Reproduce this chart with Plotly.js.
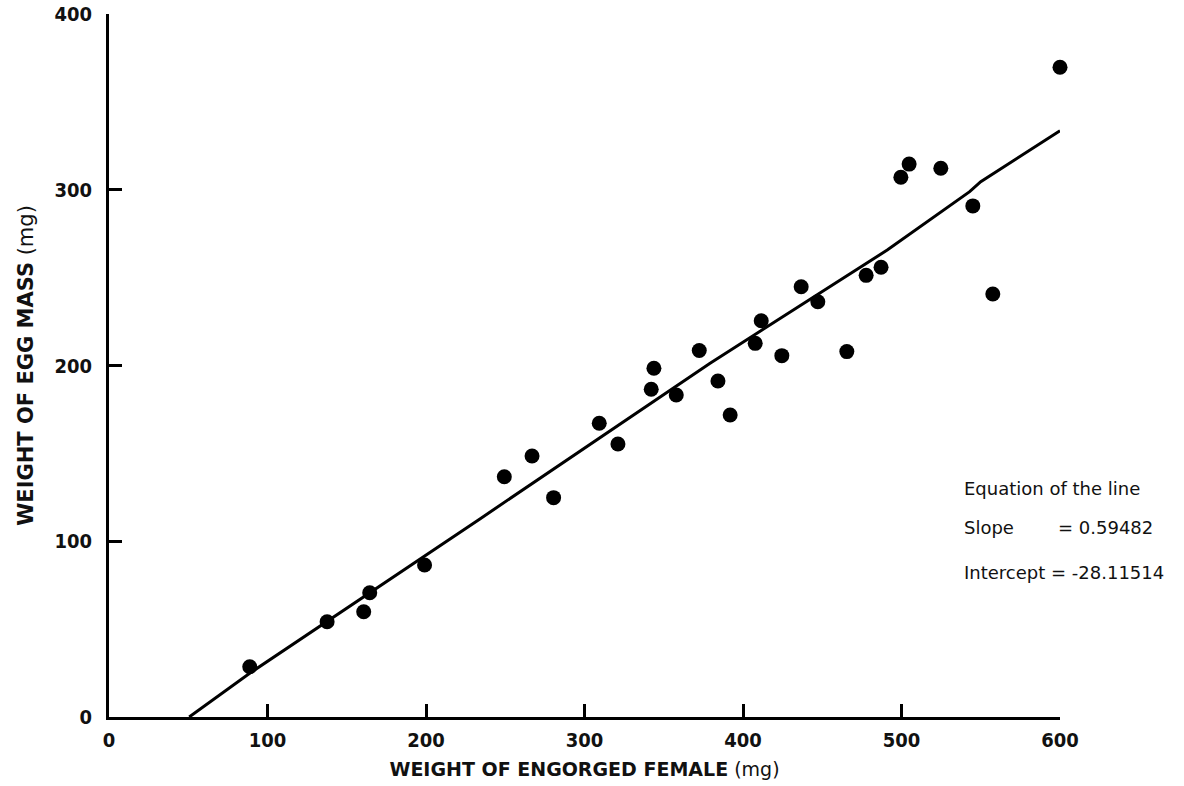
<!DOCTYPE html>
<html>
<head>
<meta charset="utf-8">
<script src="https://cdn.plot.ly/plotly-3.0.1.min.js"></script>
<style>
  html, body { margin: 0; padding: 0; background: #ffffff; }
  #chart { width: 1184px; height: 786px; }
</style>
</head>
<body>
<div id="chart"></div>
<script>
// Weight of engorged female (mg) for each tick
const femaleWeight = [
  88.8, 137.6, 160.7, 164.5, 199.1, 249.4, 266.9, 280.5, 309.3, 321.1,
  342.1, 343.8, 357.9, 372.4, 384.2, 391.9, 407.7, 411.5, 424.5, 436.7,
  447.2, 465.5, 477.7, 487.1, 499.6, 504.8, 524.8, 545.0, 557.6, 600.0
];
// Weight of egg mass (mg)
const eggMass = [
  28.6, 54.2, 59.9, 70.7, 86.5, 136.7, 148.5, 124.8, 167.1, 155.3,
  186.5, 198.4, 183.2, 208.5, 191.2, 171.8, 212.6, 225.5, 205.6, 244.8,
  236.3, 207.9, 251.3, 255.9, 307.1, 314.6, 312.2, 290.8, 240.7, 369.7
];
// Fitted line as drawn in the figure
const lineX = [50.6, 89, 234, 379, 491, 516, 543, 550, 600];
const lineY = [0, 25, 112.7, 201.2, 265.7, 281.8, 298.9, 304.6, 333.6];

const xTicks = [0, 100, 200, 300, 400, 500, 600];
const yTicks = [0, 100, 200, 300, 400];

const tickFont = { family: 'DejaVu Sans Condensed, DejaVu Sans, sans-serif', size: 20, color: '#111', weight: 'bold' };
const xTitleFont = { family: 'DejaVu Sans, sans-serif', size: 19, color: '#111' };
const yTitleFont = { family: 'DejaVu Sans, sans-serif', size: 21, color: '#111' };
const noteFont = { family: 'DejaVu Sans, sans-serif', size: 18, color: '#111' };

const traces = [
  {
    x: lineX, y: lineY, type: 'scatter', mode: 'lines',
    line: { color: '#000', width: 3 }, hoverinfo: 'skip', showlegend: false, cliponaxis: false
  },
  {
    x: femaleWeight, y: eggMass, type: 'scatter', mode: 'markers',
    marker: { color: '#000', size: 15, line: { width: 0 } }, showlegend: false, cliponaxis: false
  }
];

const layout = {
  width: 1184, height: 786,
  paper_bgcolor: '#fff', plot_bgcolor: '#fff',
  margin: { l: 109, r: 124, t: 14, b: 69 },
  showlegend: false,
  xaxis: {
    range: [0, 600], tickvals: xTicks, ticktext: xTicks.map(String),
    showgrid: false, zeroline: false,
    showline: true, linecolor: '#000', linewidth: 3,
    ticks: 'inside', ticklen: 13, tickwidth: 3, tickcolor: '#000',
    tickfont: tickFont, ticklabelstandoff: 3,
    title: { text: '<b>WEIGHT OF ENGORGED FEMALE</b> (mg)', font: xTitleFont, standoff: 12 },
    automargin: false, fixedrange: true
  },
  yaxis: {
    range: [0, 400], tickvals: yTicks, ticktext: yTicks.map(String),
    showgrid: false, zeroline: false,
    showline: true, linecolor: '#000', linewidth: 3,
    ticks: 'inside', ticklen: 13, tickwidth: 3, tickcolor: '#000',
    tickfont: tickFont, ticklabelstandoff: 10,
    title: { text: '<b>WEIGHT OF EGG MASS</b> (mg)', font: yTitleFont, standoff: 16 },
    automargin: false, fixedrange: true
  },
  annotations: [
    { xref: 'paper', yref: 'paper', x: (962 - 109) / 951, y: (717 - 488) / 703, xanchor: 'left', yanchor: 'middle',
      text: 'Equation of the line', showarrow: false, font: noteFont },
    { xref: 'paper', yref: 'paper', x: (962 - 109) / 951, y: (717 - 527) / 703, xanchor: 'left', yanchor: 'middle',
      text: 'Slope', showarrow: false, font: noteFont },
    { xref: 'paper', yref: 'paper', x: (1056 - 109) / 951, y: (717 - 527) / 703, xanchor: 'left', yanchor: 'middle',
      text: '= 0.59482', showarrow: false, font: noteFont },
    { xref: 'paper', yref: 'paper', x: (962 - 109) / 951, y: (717 - 572) / 703, xanchor: 'left', yanchor: 'middle',
      text: 'Intercept = -28.11514', showarrow: false, font: noteFont }
  ]
};

Plotly.newPlot('chart', traces, layout, { displayModeBar: false, staticPlot: true });
</script>
</body>
</html>
